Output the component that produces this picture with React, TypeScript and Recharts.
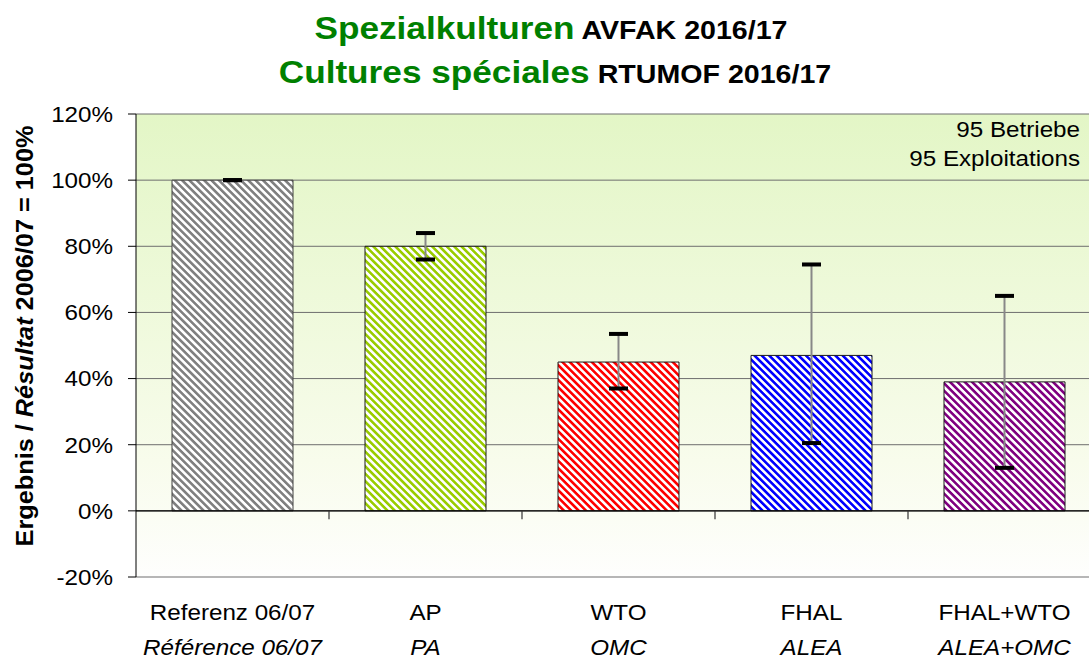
import React from 'react';
import {
  ComposedChart,
  Bar,
  Cell,
  XAxis,
  YAxis,
  CartesianGrid,
  ReferenceLine,
  ErrorBar,
  Scatter,
} from 'recharts';

const categoriesDe = ['Referenz 06/07', 'AP', 'WTO', 'FHAL', 'FHAL+WTO'];
const categoriesFr = ['Référence 06/07', 'PA', 'OMC', 'ALEA', 'ALEA+OMC'];
const values = [100, 80, 45, 47, 39];
const errorLow = [100, 76, 37, 20.5, 13];
const errorHigh = [100, 84, 53.5, 74.5, 65];
const yTicks = [-20, 0, 20, 40, 60, 80, 100, 120];
const barColors = ['#808080', '#99cc00', '#ff0000', '#0000ff', '#800080'];
const barStrokes = ['#404040', '#1a1a1a', '#1a1a1a', '#1a1a1a', '#1a1a1a'];

const rows = categoriesDe.map((name, i) => ({
  name,
  value: values[i],
  lo: errorLow[i],
  hi: errorHigh[i],
  err: [values[i] - errorLow[i], errorHigh[i] - values[i]],
}));

const SX = 1.1;
const FONT = '"Liberation Sans", Arial, sans-serif';

function YTick(props: any) {
  const { x, y, payload } = props;
  return (
    <text
      transform={`translate(${x},${y}) scale(${SX},1)`}
      textAnchor="end"
      dy="0.36em"
      fontSize={22}
      fontFamily={FONT}
      fill="#000"
    >
      {payload.value}%
    </text>
  );
}

function XTick(props: any) {
  const { x, y, payload } = props;
  const idx = categoriesDe.indexOf(payload.value);
  return (
    <g>
      <text
        transform={`translate(${x},${y + 43}) scale(${SX},1)`}
        textAnchor="middle"
        fontSize={22}
        fontFamily={FONT}
        fill="#000"
      >
        {payload.value}
      </text>
      <text
        transform={`translate(${x},${y + 78}) scale(${SX},1)`}
        textAnchor="middle"
        fontSize={22}
        fontStyle="italic"
        fontFamily={FONT}
        fill="#000"
      >
        {categoriesFr[idx]}
      </text>
    </g>
  );
}

function Cap(props: any) {
  const { cx, cy } = props;
  if (cx == null || cy == null) return null;
  return <rect x={cx - 9.5} y={cy - 2} width={19} height={4} fill="#000" />;
}

export default function App() {
  return (
    <div
      style={{
        position: 'absolute',
        left: 0,
        top: 0,
        width: 1089,
        height: 661,
        overflow: 'hidden',
        background: '#fff',
        fontFamily: FONT,
      }}
    >
      <ComposedChart
        width={1101}
        height={661}
        data={rows}
        margin={{ top: 114, right: 0, bottom: 0, left: 0 }}
      >
        <defs>
          <linearGradient id="bg" x1="0" y1="0" x2="0" y2="1">
            <stop offset="0%" stopColor="#e3f6c6" />
            <stop offset="75%" stopColor="#f8fcec" />
            <stop offset="100%" stopColor="#fefefd" />
          </linearGradient>
          {barColors.map((c, i) => (
            <pattern
              key={i}
              id={`pat${i}`}
              patternUnits="userSpaceOnUse"
              width={5.2}
              height={5.2}
              patternTransform="rotate(-45)"
            >
              <rect width={5.2} height={5.2} fill="#fff" />
              <rect width={2.6} height={5.2} fill={c} />
            </pattern>
          ))}
        </defs>
        <CartesianGrid vertical={false} stroke="#6e6e6e" fill="url(#bg)" fillOpacity={1} />
        <XAxis
          dataKey="name"
          height={84}
          axisLine={false}
          tickLine={false}
          tickSize={0}
          tickMargin={0}
          interval={0}
          tick={<XTick />}
        />
        <YAxis
          width={136}
          domain={[-20, 120]}
          ticks={yTicks}
          interval={0}
          tickSize={8}
          tickMargin={15}
          axisLine={{ stroke: '#000' }}
          tickLine={{ stroke: '#000' }}
          tick={<YTick />}
          allowDataOverflow
        />
        <ReferenceLine y={0} stroke="#000" strokeWidth={1.2} />
        {categoriesDe.slice(1).map((c) => (
          <ReferenceLine
            key={c}
            position="start"
            segment={[
              { x: c, y: 0 },
              { x: c, y: -2.5 },
            ]}
            stroke="#333"
            strokeWidth={1.2}
          />
        ))}
        <Bar dataKey="value" barSize={121} isAnimationActive={false}>
          {rows.map((r, i) => (
            <Cell key={r.name} fill={`url(#pat${i})`} stroke={barStrokes[i]} strokeWidth={1} />
          ))}
          <ErrorBar dataKey="err" width={0} stroke="#888" strokeWidth={2} isAnimationActive={false} />
        </Bar>
        <Scatter dataKey="lo" shape={<Cap />} isAnimationActive={false} />
        <Scatter dataKey="hi" shape={<Cap />} isAnimationActive={false} />
      </ComposedChart>
      <svg
        width={1089}
        height={661}
        style={{ position: 'absolute', left: 0, top: 0, pointerEvents: 'none' }}
      >
        <text
          transform={`translate(551,39) scale(${SX},1)`}
          textAnchor="middle"
          fontFamily={FONT}
          fontWeight="bold"
        >
          <tspan fill="#008000" fontSize={32}>Spezialkulturen</tspan>
          <tspan fill="#000" fontSize={26}> AVFAK 2016/17</tspan>
        </text>
        <text
          transform={`translate(555,83) scale(${SX},1)`}
          textAnchor="middle"
          fontFamily={FONT}
          fontWeight="bold"
        >
          <tspan fill="#008000" fontSize={32}>Cultures spéciales</tspan>
          <tspan fill="#000" fontSize={26}> RTUMOF 2016/17</tspan>
        </text>
        <text
          transform={`translate(33,336) rotate(-90) scale(${SX},1)`}
          textAnchor="middle"
          fontFamily={FONT}
          fontWeight="bold"
          fontSize={23}
          fill="#000"
        >
          Ergebnis / <tspan fontStyle="italic">Résultat</tspan> 2006/07 = 100%
        </text>
        <text
          transform={`translate(1080,137) scale(${SX},1)`}
          textAnchor="end"
          fontFamily={FONT}
          fontSize={22}
          fill="#000"
        >
          95 Betriebe
        </text>
        <text
          transform={`translate(1080,166) scale(${SX},1)`}
          textAnchor="end"
          fontFamily={FONT}
          fontSize={22}
          fill="#000"
        >
          95 Exploitations
        </text>
      </svg>
    </div>
  );
}
